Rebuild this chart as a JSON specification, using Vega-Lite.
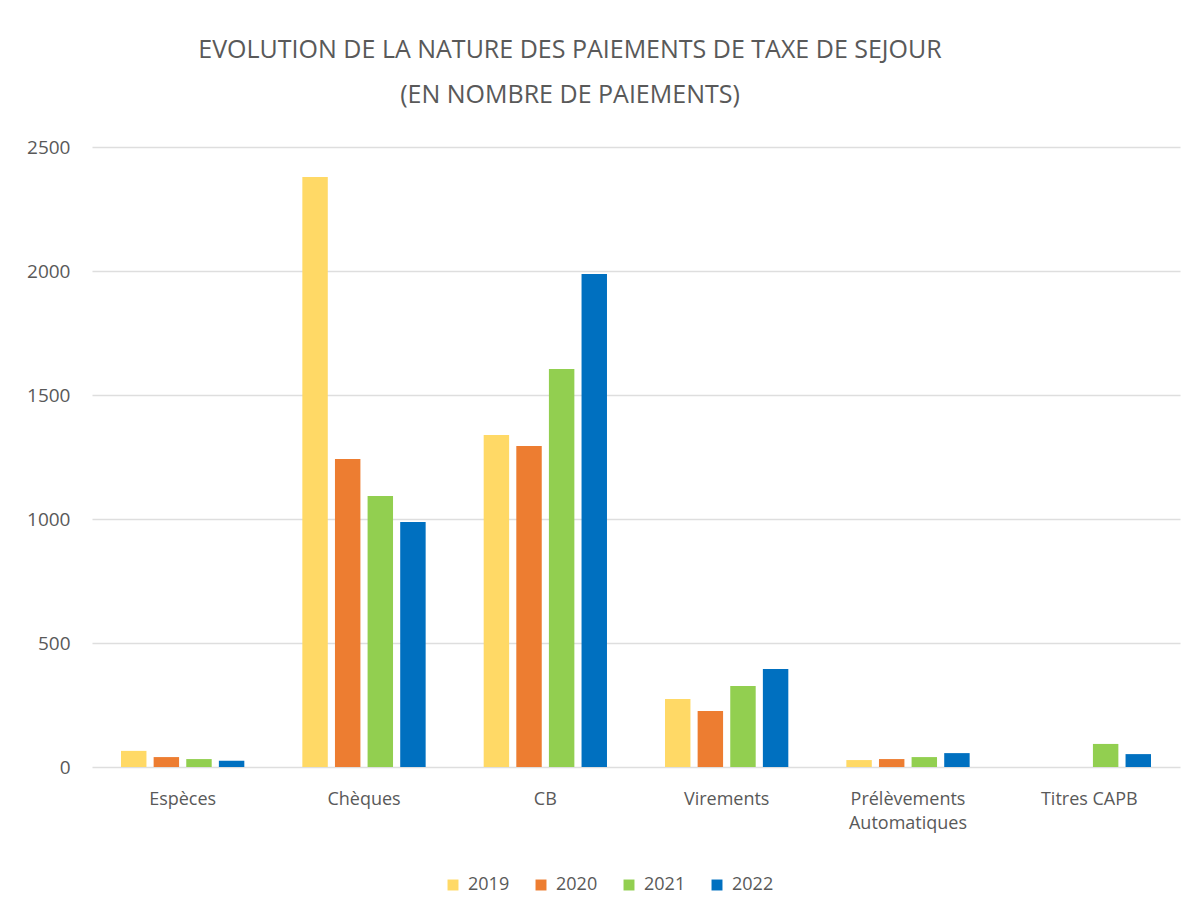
{
  "$schema": "https://vega.github.io/schema/vega-lite/v6.json",
  "width": 1088,
  "height": 620,
  "autosize": {"type": "none"},
  "padding": {"left": 92, "top": 147, "right": 12, "bottom": 155},
  "background": "white",
  "title": {
    "text": ["EVOLUTION DE LA NATURE DES PAIEMENTS DE TAXE DE SEJOUR", "(EN NOMBRE DE PAIEMENTS)"],
    "font": "Open Sans",
    "fontSize": 25,
    "fontWeight": "normal",
    "color": "#595959",
    "lineHeight": 45,
    "anchor": "middle",
    "dx": -66,
    "offset": 30
  },
  "data": {
    "values": [
      {"cat": "Espèces", "year": "2019", "value": 65},
      {"cat": "Espèces", "year": "2020", "value": 40},
      {"cat": "Espèces", "year": "2021", "value": 32},
      {"cat": "Espèces", "year": "2022", "value": 25},
      {"cat": "Chèques", "year": "2019", "value": 2379},
      {"cat": "Chèques", "year": "2020", "value": 1242},
      {"cat": "Chèques", "year": "2021", "value": 1093},
      {"cat": "Chèques", "year": "2022", "value": 988},
      {"cat": "CB", "year": "2019", "value": 1339},
      {"cat": "CB", "year": "2020", "value": 1294},
      {"cat": "CB", "year": "2021", "value": 1605},
      {"cat": "CB", "year": "2022", "value": 1988},
      {"cat": "Virements", "year": "2019", "value": 274},
      {"cat": "Virements", "year": "2020", "value": 226},
      {"cat": "Virements", "year": "2021", "value": 327},
      {"cat": "Virements", "year": "2022", "value": 395},
      {"cat": "Prélèvements Automatiques", "year": "2019", "value": 28},
      {"cat": "Prélèvements Automatiques", "year": "2020", "value": 32},
      {"cat": "Prélèvements Automatiques", "year": "2021", "value": 40},
      {"cat": "Prélèvements Automatiques", "year": "2022", "value": 56},
      {"cat": "Titres CAPB", "year": "2019", "value": 0},
      {"cat": "Titres CAPB", "year": "2020", "value": 0},
      {"cat": "Titres CAPB", "year": "2021", "value": 93},
      {"cat": "Titres CAPB", "year": "2022", "value": 52}
    ]
  },
  "mark": {"type": "bar"},
  "encoding": {
    "x": {
      "field": "cat",
      "type": "nominal",
      "sort": null,
      "scale": {"paddingInner": 0.32, "paddingOuter": 0.16},
      "axis": {
        "title": null,
        "labelAngle": 0,
        "labelFont": "Open Sans",
        "labelFontSize": 18,
        "labelColor": "#595959",
        "labelPadding": 23,
        "labelLineHeight": 24,
        "ticks": false,
        "domain": false,
        "labelExpr": "datum.label == 'Prélèvements Automatiques' ? ['Prélèvements', 'Automatiques'] : datum.label"
      }
    },
    "xOffset": {"field": "year", "type": "nominal", "scale": {"paddingInner": 0.22}},
    "y": {
      "field": "value",
      "type": "quantitative",
      "scale": {"domain": [0, 2500], "nice": false},
      "axis": {
        "title": null,
        "format": "d",
        "values": [0, 500, 1000, 1500, 2000, 2500],
        "labelFont": "Open Sans",
        "labelFontSize": 19,
        "labelColor": "#595959",
        "labelPadding": 22,
        "ticks": false,
        "domain": false,
        "grid": true,
        "gridColor": "#dedede",
        "gridWidth": 1.5
      }
    },
    "color": {
      "field": "year",
      "type": "nominal",
      "scale": {"domain": ["2019", "2020", "2021", "2022"], "range": ["#FFD966", "#ED7D31", "#92CF50", "#0070C0"]},
      "legend": {
        "title": null,
        "orient": "none",
        "direction": "horizontal",
        "legendX": 352,
        "legendY": 729,
        "symbolType": "square",
        "symbolSize": 120,
        "symbolStrokeWidth": 0,
        "labelFont": "Open Sans",
        "labelFontSize": 18,
        "labelColor": "#595959",
        "columnPadding": 22,
        "labelOffset": 6
      }
    }
  },
  "config": {
    "view": {"stroke": null}
  }
}
